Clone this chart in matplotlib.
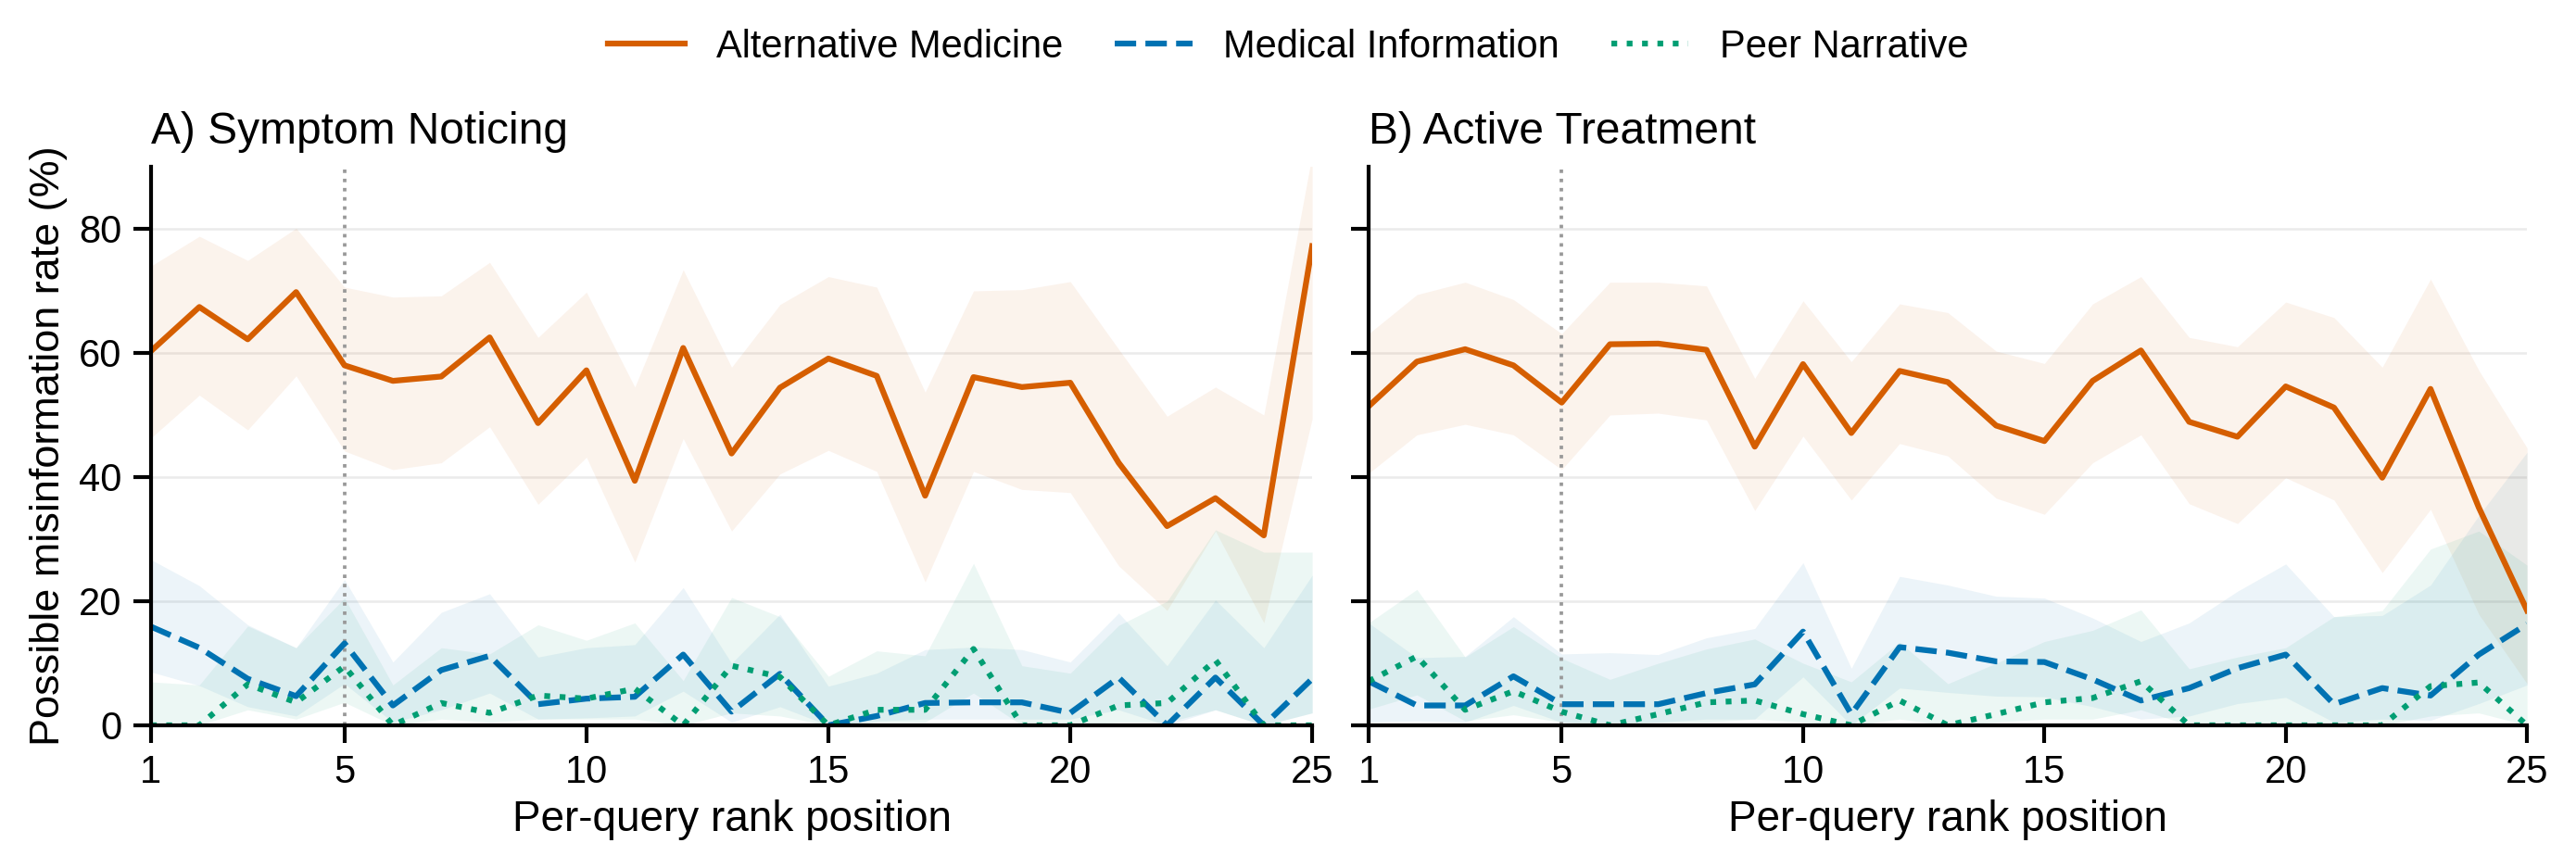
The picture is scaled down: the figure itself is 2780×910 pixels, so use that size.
# Misinformation rate by rank position, two query stages

import matplotlib
matplotlib.use("Agg")
import matplotlib.pyplot as plt
import numpy as np

plt.rcParams['font.family'] = ['Liberation Sans', 'DejaVu Sans']

ranks = list(range(1, 26))

# A) Symptom Noticing
a_alt = [60.3, 67.4, 62.2, 69.8, 58.0, 55.5, 56.2, 62.5, 48.7, 57.2, 39.4, 60.8, 43.8,
         54.4, 59.1, 56.3, 37.0, 56.1, 54.5, 55.2, 42.3, 32.1, 36.6, 30.6, 77.2]
a_alt_hi = [74.0, 78.8, 74.9, 80.1, 70.6, 69.0, 69.2, 74.6, 62.5, 69.8, 54.5, 73.4, 57.7,
            67.8, 72.3, 70.6, 53.7, 70.0, 70.2, 71.5, 60.6, 49.8, 54.5, 50.0, 92.0]
a_alt_lo = [46.3, 53.2, 47.6, 56.3, 44.2, 41.2, 42.3, 48.1, 35.6, 43.2, 26.3, 46.2, 31.3,
            40.5, 44.3, 40.9, 23.1, 40.9, 38.0, 37.5, 25.7, 18.5, 31.3, 16.5, 49.4]
a_med = [15.9, 12.5, 7.5, 4.7, 13.2, 3.2, 8.9, 11.2, 3.4, 4.3, 4.6, 11.4, 2.2,
         8.3, 0.0, 1.5, 3.6, 3.7, 3.7, 2.0, 7.7, 0.0, 7.7, 0.0, 7.5]
a_med_hi = [26.7, 22.5, 16.2, 12.5, 23.5, 10.2, 18.2, 21.2, 11.0, 12.5, 13.0, 22.2, 10.0,
            17.9, 6.3, 8.4, 12.2, 12.6, 12.2, 10.2, 18.1, 9.6, 20.2, 12.5, 24.2]
a_med_lo = [8.6, 6.4, 3.0, 1.5, 6.7, 0.5, 2.5, 5.2, 1.0, 1.2, 1.5, 5.5, 0.5,
            3.0, 0.0, 0.7, 1.0, 1.0, 1.0, 1.0, 2.5, 0.0, 2.5, 0.0, 2.0]
a_peer = [0.0, 0.0, 6.6, 3.7, 9.5, 0.0, 3.6, 2.0, 4.8, 4.3, 5.9, 0.0, 9.6,
          7.8, 0.0, 2.5, 2.5, 12.3, 0.0, 0.0, 3.2, 3.6, 10.5, 0.0, 0.0]
a_peer_hi = [7.0, 6.5, 16.0, 12.5, 20.5, 6.5, 12.5, 11.5, 16.2, 13.7, 16.5, 7.2, 20.6,
             17.5, 7.9, 12.0, 11.2, 26.1, 9.6, 8.4, 16.1, 20.0, 31.5, 27.9, 27.9]
a_peer_lo = [0.0, 0.0, 2.5, 1.0, 3.7, 0.0, 1.0, 0.5, 1.0, 1.0, 1.0, 0.0, 2.0,
             1.5, 0.0, 0.5, 0.5, 5.2, 0.0, 0.0, 0.5, 0.5, 2.5, 0.0, 2.0]

# B) Active Treatment
b_alt = [51.4, 58.6, 60.6, 58.0, 52.0, 61.4, 61.5, 60.5, 44.9, 58.2, 47.1, 57.1, 55.3,
         48.3, 45.8, 55.5, 60.4, 48.9, 46.5, 54.6, 51.2, 39.9, 54.2, 35.1, 18.5]
b_alt_hi = [63.1, 69.4, 71.4, 68.6, 63.1, 71.4, 71.4, 70.8, 55.9, 68.4, 58.6, 67.9, 66.5,
            60.3, 58.3, 67.9, 72.3, 62.5, 61.0, 68.2, 65.7, 57.7, 71.9, 57.2, 44.7]
b_alt_lo = [40.6, 46.8, 48.5, 46.8, 41.2, 50.0, 50.3, 49.2, 34.6, 46.6, 36.3, 45.4, 43.4,
            36.6, 34.0, 42.3, 46.8, 35.7, 32.5, 39.9, 36.3, 24.6, 34.8, 17.9, 6.7]
b_med = [7.1, 3.2, 3.2, 7.9, 3.4, 3.4, 3.4, 5.2, 6.6, 15.1, 1.8, 12.6, 11.7,
         10.3, 10.2, 7.4, 4.0, 6.0, 9.2, 11.4, 3.4, 6.0, 4.8, 11.4, 16.3]
b_med_hi = [16.5, 10.9, 11.1, 17.5, 11.5, 11.7, 11.4, 14.1, 15.6, 26.2, 9.2, 24.0, 22.6,
            20.8, 20.5, 17.3, 13.5, 16.5, 21.6, 26.0, 17.5, 17.7, 22.6, 33.8, 44.0]
b_med_lo = [0.5, 0.7, 0.5, 3.2, 0.5, 0.5, 0.5, 1.0, 1.0, 7.8, 0.0, 6.0, 5.3,
            4.7, 4.6, 3.0, 1.0, 1.5, 3.5, 4.5, 0.5, 1.0, 0.8, 3.5, 6.5]
b_peer = [7.1, 11.1, 2.5, 5.5, 2.2, 0.0, 1.8, 3.7, 4.0, 1.8, 0.0, 4.0, 0.0,
          1.8, 3.7, 4.4, 7.1, 0.0, 0.0, 0.0, 0.0, 0.0, 6.3, 6.9, 0.0]
b_peer_hi = [16.5, 21.9, 11.0, 15.9, 10.8, 7.4, 10.0, 12.3, 13.9, 10.0, 7.0, 13.4, 6.7,
             10.0, 13.5, 15.3, 18.6, 9.1, 11.0, 12.5, 17.5, 18.5, 28.4, 31.3, 25.8]
b_peer_lo = [2.6, 4.9, 0.7, 1.7, 0.5, 0.0, 0.5, 0.5, 1.0, 0.5, 0.0, 1.0, 0.0,
             0.5, 1.0, 1.0, 2.5, 0.0, 0.0, 0.0, 0.0, 0.0, 1.5, 2.0, 0.0]

labels = ["Alternative Medicine", "Medical Information", "Peer Narrative"]
colors = ["#D55E00", "#0072B2", "#009E73"]
styles = ["-", "--", ":"]

panels = [
    ("A) Symptom Noticing", [(a_alt, a_alt_lo, a_alt_hi), (a_med, a_med_lo, a_med_hi),
                             (a_peer, a_peer_lo, a_peer_hi)]),
    ("B) Active Treatment", [(b_alt, b_alt_lo, b_alt_hi), (b_med, b_med_lo, b_med_hi),
                             (b_peer, b_peer_lo, b_peer_hi)]),
]

fig = plt.figure(figsize=(2780 / 300, 910 / 300), dpi=300)
ax1 = fig.add_axes([0.0586, 0.1396, 0.4508, 0.6626])
ax2 = fig.add_axes([0.5313, 0.1396, 0.4497, 0.6626], sharey=ax1)
axes = [ax1, ax2]

for ax, (title, series) in zip(axes, panels):
    for (mean, lo, hi), lab, c, ls in zip(series, labels, colors, styles):
        ax.fill_between(ranks, lo, hi, color=c, alpha=0.075, linewidth=0)
        ax.plot(ranks, mean, color=c, linestyle=ls, linewidth=1.5, label=lab)
    ax.axvline(5, color="#999999", linestyle=":", linewidth=0.9, zorder=1)
    ax.set_xlim(1, 25)
    ax.set_ylim(0, 90)
    ax.set_xticks([1, 5, 10, 15, 20, 25])
    ax.set_yticks([0, 20, 40, 60, 80])
    ax.grid(axis="y", color="#ebebeb", linewidth=0.6)
    ax.set_axisbelow(True)
    ax.spines["top"].set_visible(False)
    ax.spines["right"].set_visible(False)
    ax.spines["left"].set_linewidth(1.0)
    ax.spines["bottom"].set_linewidth(1.0)
    ax.tick_params(labelsize=10, length=4.5, width=1.0, pad=3)
    ax.set_title(title, loc="left", fontsize=11.5, pad=6)
    ax.set_xlabel("Per-query rank position", fontsize=11, labelpad=2)

ax1.set_ylabel("Possible misinformation rate (%)", fontsize=10.8, labelpad=3)
ax2.tick_params(labelleft=False)

handles, labs = ax1.get_legend_handles_labels()
fig.legend(handles, labs, loc="center", bbox_to_anchor=(0.5, 0.944), ncol=3,
           frameon=False, fontsize=10, columnspacing=1.35, handlelength=2.0)

plt.savefig("out.png", dpi=300)
